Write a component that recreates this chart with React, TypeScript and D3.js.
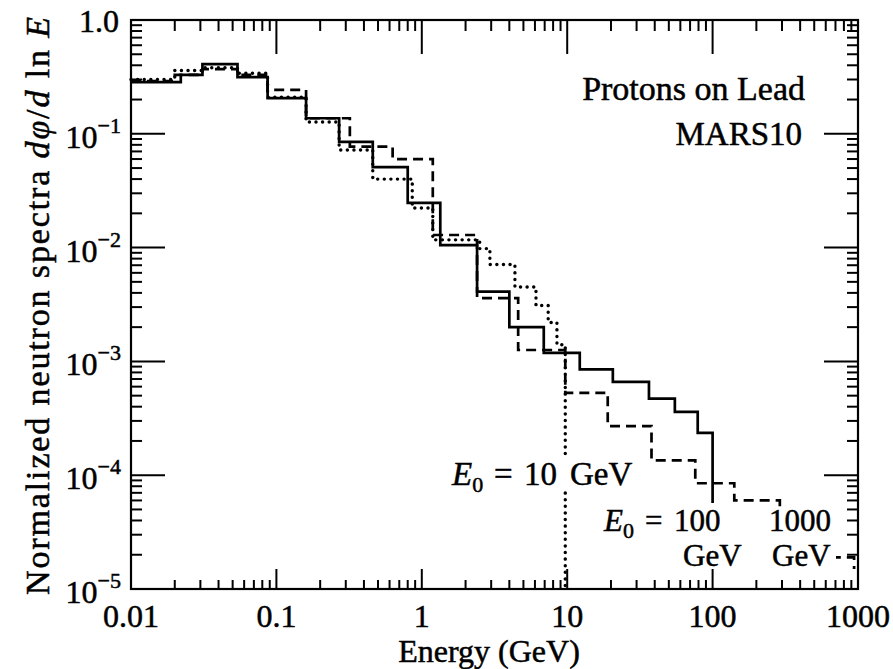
import React from 'react'
import * as d3 from 'd3'

const W = 893
const H = 669

// histogram bin edges (GeV) and dphi/dlnE per bin
// E0 = 100 GeV, solid
const solidEdges = [0.01, 0.022, 0.031, 0.054, 0.087, 0.16, 0.27, 0.46, 0.8, 1.34, 2.4, 4.0, 6.9, 12.2, 20.6, 36.5, 55, 79, 100]
const solidValues = [0.285, 0.33, 0.41, 0.315, 0.206, 0.137, 0.085, 0.051, 0.0247, 0.0105, 0.0041, 0.002, 0.00119, 0.00085, 0.00066, 0.00047, 0.00036, 0.000235]
const solidEnd = 5.7e-5

// E0 = 1000 GeV, dashed
const dashedEdges = [0.01, 0.02, 0.031, 0.054, 0.087, 0.16, 0.32, 0.63, 1.19, 2.4, 4.6, 9.7, 19, 38, 76, 141, 290, 940]
const dashedValues = [0.29, 0.33, 0.37, 0.33, 0.243, 0.137, 0.077, 0.06, 0.0129, 0.0036, 0.00126, 0.00053, 0.00027, 0.000135, 8.5e-5, 6e-5, 1.9e-5]
const dashedEnd = 1.5e-5

// E0 = 10 GeV, dotted
const dottedEdges = [0.01, 0.02, 0.031, 0.054, 0.087, 0.16, 0.27, 0.46, 0.86, 1.19, 2.5, 2.94, 4.37, 6.1, 7.4, 8.5, 9.7]
const dottedValues = [0.3, 0.36, 0.38, 0.34, 0.21, 0.127, 0.072, 0.04, 0.0223, 0.0117, 0.0098, 0.0071, 0.0045, 0.0031, 0.0022, 0.0014]
const dottedEnd = 1e-5

const xTickLabels = ['0.01', '0.1', '1', '10', '100', '1000']
const yTickExps = [-1, -2, -3, -4, -5]

const font = '"Liberation Serif", "Times New Roman", serif'

function stepPath(x, y, edges, values, end) {
  let d = `M${x(edges[0])},${y(values[0])}`
  values.forEach((v, i) => {
    if (i > 0) d += `V${y(v)}`
    d += `H${x(edges[i + 1])}`
  })
  if (end) d += `V${y(end)}`
  return d
}

const isMajor = t => Math.abs(Math.log10(t) - Math.round(Math.log10(t))) < 1e-9

function E0({ sub }) {
  return (
    <>
      <tspan fontStyle="italic">E</tspan>
      <tspan fontSize={sub} dy={7}>0</tspan>
    </>
  )
}

export default function App() {
  const margin = { left: 131, right: 858, top: 20, bottom: 589 }
  const x = d3.scaleLog().domain([0.01, 1000]).range([margin.left, margin.right])
  const y = d3.scaleLog().domain([1e-5, 1]).range([margin.bottom, margin.top])

  const xt = x.ticks().filter(t => t > 0.01 * 1.001 && t < 1000 / 1.001)
  const yt = y.ticks().filter(t => t > 1e-5 * 1.001 && t < 1 / 1.001)

  const fs = 32
  const sub = 22

  return (
    <svg width={W} height={H} style={{ position: 'absolute', left: 0, top: 0, background: 'white' }}
      fontFamily={font} fontSize={fs}>
      <rect width={W} height={H} fill="white" />

      {/* ticks */}
      <g stroke="black" strokeWidth={2}>
        {xt.map(t => {
          const big = isMajor(t)
          return (
            <g key={'x' + t}>
              <line x1={x(t)} x2={x(t)} y1={margin.top} y2={margin.top + (big ? 34 : 11)} />
              <line x1={x(t)} x2={x(t)} y1={margin.bottom} y2={margin.bottom - (big ? 20 : 9)} />
            </g>
          )
        })}
        {yt.map(t => {
          const big = isMajor(t)
          return (
            <g key={'y' + t}>
              <line y1={y(t)} y2={y(t)} x1={margin.left} x2={margin.left + (big ? 34 : 11)} />
              <line y1={y(t)} y2={y(t)} x1={margin.right} x2={margin.right - (big ? 34 : 11)} />
            </g>
          )
        })}
      </g>

      {/* spectra */}
      <g fill="none" stroke="black" strokeWidth={2.7}>
        <path d={stepPath(x, y, solidEdges, solidValues, solidEnd)} />
        <path d={stepPath(x, y, dashedEdges, dashedValues, dashedEnd)} strokeDasharray="10 6" />
        <path d={stepPath(x, y, dottedEdges, dottedValues, dottedEnd)} strokeDasharray="0.1 6.5" strokeLinecap="round" strokeWidth={3.4} />
      </g>

      {/* frame */}
      <rect x={margin.left} y={margin.top} width={margin.right - margin.left} height={margin.bottom - margin.top}
        fill="none" stroke="black" strokeWidth={2.2} />

      {/* white boxes behind the in-plot labels, as in the typeset original */}
      <g fill="white">
        <rect x={446} y={458} width={196} height={32} />
        <rect x={600} y={507} width={148} height={62} />
        <rect x={764} y={507} width={72} height={62} />
      </g>

      <g fill="black" stroke="black" strokeWidth={0.5}>
        {/* annotations */}
        <text x={805} y={100} textAnchor="end" fontSize={34}>Protons on Lead</text>
        <text x={802} y={145} textAnchor="end" fontSize={33}>MARS10</text>
        <text x={452} y={485} fontSize={33}>
          <E0 sub={sub} /><tspan dy={-7} x={494}>=</tspan><tspan x={524}>10</tspan><tspan x={570}>GeV</tspan>
        </text>
        <text x={604} y={531} fontSize={31}>
          <E0 sub={sub} /><tspan dy={-7} x={645}>=</tspan><tspan x={674}>100</tspan>
        </text>
        <text x={683} y={566} fontSize={31}>GeV</text>
        <text x={769} y={531} fontSize={31}>1000</text>
        <text x={772} y={566} fontSize={31}>GeV</text>

        {/* x tick labels */}
        {xTickLabels.map((l, i) => (
          <text key={l} x={x(Math.pow(10, i - 2))} y={627} textAnchor="middle">{l}</text>
        ))}
        <text x={489} y={662} textAnchor="middle">Energy (GeV)</text>

        {/* y tick labels */}
        <text x={119} y={32} textAnchor="end">1.0</text>
        {yTickExps.map(e => (
          <text key={e} x={121} y={y(Math.pow(10, e)) + 14} textAnchor="end">
            10<tspan fontSize={sub} dy={-15}>{'\u2212' + Math.abs(e)}</tspan>
          </text>
        ))}

        <text transform={`translate(49,306) rotate(-90)`} textAnchor="middle" fontSize={34} textLength={578}>
          Normalized neutron spectra <tspan fontStyle="italic">d</tspan><tspan fontStyle="italic">φ</tspan>/<tspan fontStyle="italic">d</tspan> ln <tspan fontStyle="italic">E</tspan>
        </text>
      </g>
    </svg>
  )
}
